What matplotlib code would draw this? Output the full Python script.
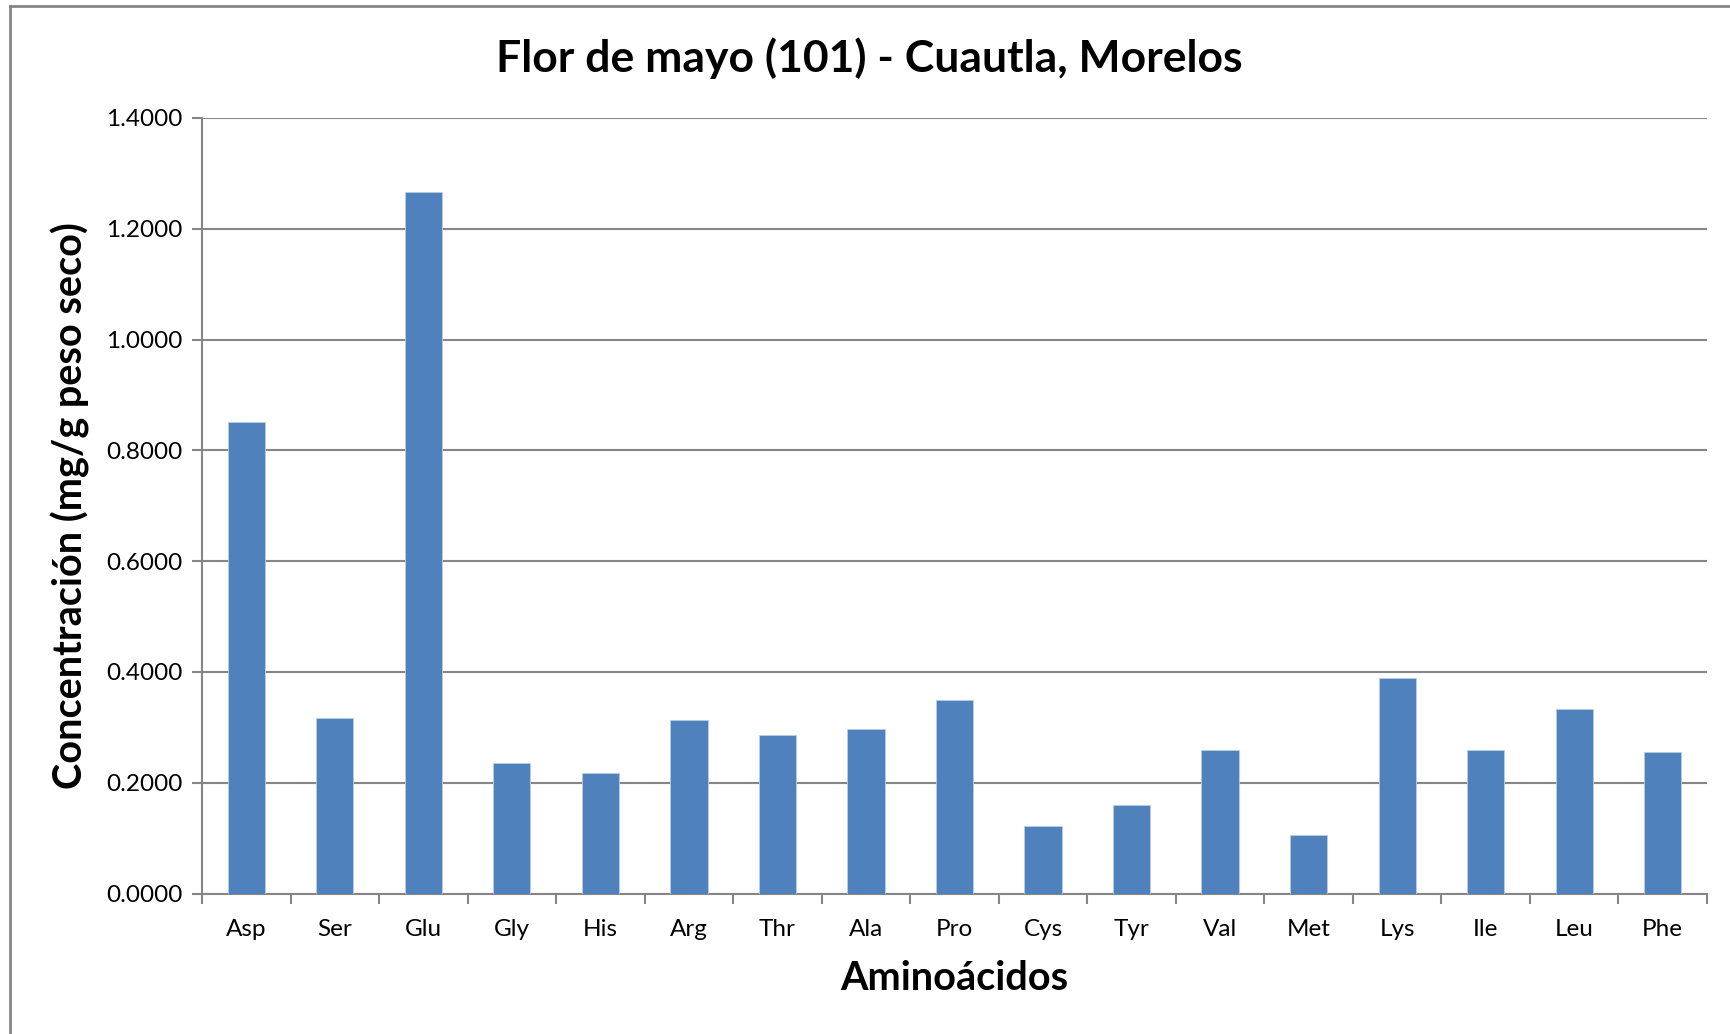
import matplotlib
matplotlib.use("Agg")
import matplotlib.pyplot as plt
from matplotlib.lines import Line2D

categories = ["Asp", "Ser", "Glu", "Gly", "His", "Arg", "Thr", "Ala", "Pro",
              "Cys", "Tyr", "Val", "Met", "Lys", "Ile", "Leu", "Phe"]
values = [0.852, 0.317, 1.266, 0.236, 0.217, 0.314, 0.287, 0.297, 0.350,
          0.122, 0.159, 0.259, 0.105, 0.389, 0.259, 0.333, 0.256]
yticks = [0.0, 0.2, 0.4, 0.6, 0.8, 1.0, 1.2, 1.4]

title = "Flor de mayo (101) - Cuautla, Morelos"
xlabel = "Aminoácidos"
ylabel = "Concentración (mg/g peso seco)"

plt.rcParams['font.family'] = ['Lato', 'DejaVu Sans']
grey = "#868686"

fig = plt.figure(figsize=(17.30, 10.34), dpi=100)
ax = fig.add_axes([202/1730, 1 - 893.5/1034, (1707 - 202)/1730, (893.5 - 118)/1034])

x = list(range(len(categories)))
ax.bar(x, values, width=0.42, color="#4F81BD", edgecolor="#B9CDE5", linewidth=0.6, zorder=3)

ax.set_xlim(-0.5, len(categories) - 0.5)
ax.set_ylim(0, 1.4)
ax.set_yticks(yticks)
ax.set_yticklabels([f"{v:.4f}" for v in yticks], fontsize=17.5)
ax.set_xticks(x)
ax.set_xticklabels(categories, fontsize=17.5)
ax.set_xticks([i - 0.5 for i in range(len(categories) + 1)], minor=True)
ax.tick_params(axis="x", which="major", length=0, pad=18)
ax.tick_params(axis="x", which="minor", length=7, width=1.5, color=grey, direction="out")
ax.tick_params(axis="y", length=7, width=1.5, color=grey, direction="out", pad=7)

ax.yaxis.grid(True, color=grey, linewidth=1.5, zorder=0)
ax.set_axisbelow(True)
for side in ["top", "right"]:
    ax.spines[side].set_visible(False)
for side in ["left", "bottom"]:
    ax.spines[side].set_color(grey)
    ax.spines[side].set_linewidth(1.5)

ax.set_xlabel(xlabel, fontsize=28.5, fontweight="bold", labelpad=15)
ax.set_ylabel(ylabel, fontsize=28.5, fontweight="bold", labelpad=12)
fig.text(0.5 + 4/1730, 1 - 58/1034, title, ha="center", va="center",
         fontsize=32, fontweight="bold")

# outer chart border (top and left visible)
fig.add_artist(Line2D([10/1730, 1.0], [1 - 5.5/1034, 1 - 5.5/1034], transform=fig.transFigure,
                      color=grey, linewidth=2))
fig.add_artist(Line2D([10/1730, 10/1730], [0, 1 - 5.5/1034], transform=fig.transFigure,
                      color=grey, linewidth=2))

fig.savefig("out.png", dpi=100)
